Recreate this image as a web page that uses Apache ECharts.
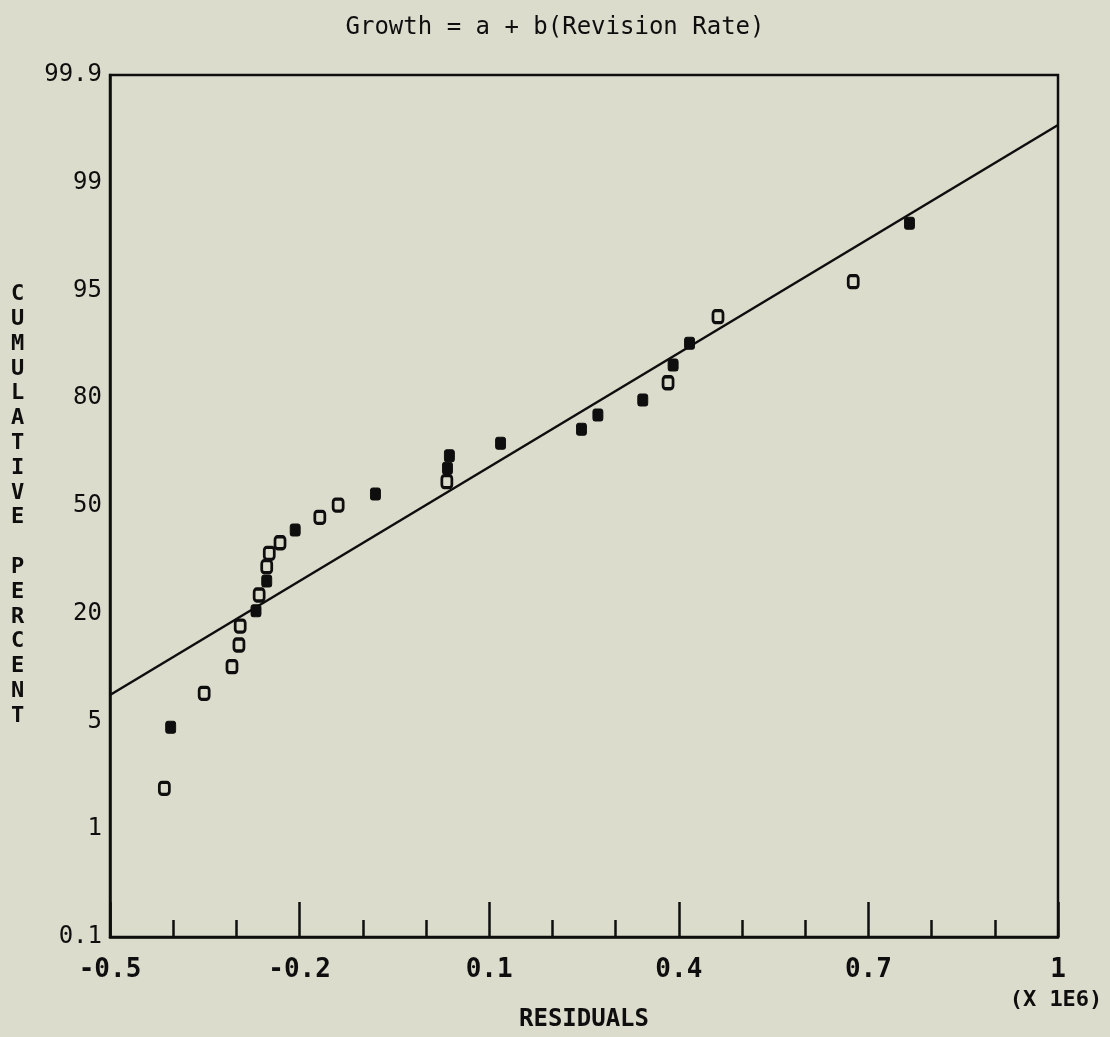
<!DOCTYPE html>
<html>
<head>
<meta charset="utf-8">
<script src="https://cdn.jsdelivr.net/npm/echarts@6/dist/echarts.min.js"></script>
<style>
html,body{margin:0;padding:0;background:#dcdccd;}
#chart{width:1110px;height:1037px;}
</style>
</head>
<body>
<div id="chart"></div>
<script>
// Probability-scale tick labels (equally spaced positions 0..8 on the y axis)
var probTickLabels = ['0.1', '1', '5', '20', '50', '80', '95', '99', '99.9'];
var xTickLabels = ['-0.5', '-0.2', '0.1', '0.4', '0.7', '1'];

// Residuals (x 1E6) and their position on the probability axis (tick-index units)
var hollowResiduals = [-0.414, -0.351, -0.307, -0.296, -0.294, -0.264, -0.252, -0.248, -0.231, -0.168, -0.139, 0.033, 0.383, 0.462, 0.676];
var hollowProbPos   = [1.38, 2.262, 2.509, 2.71, 2.886, 3.174, 3.437, 3.561, 3.659, 3.895, 4.009, 4.226, 5.144, 5.757, 6.082];
var filledResiduals = [-0.404, -0.269, -0.252, -0.207, -0.080, 0.034, 0.037, 0.118, 0.246, 0.272, 0.343, 0.391, 0.417, 0.765];
var filledProbPos   = [1.946, 3.028, 3.304, 3.777, 4.111, 4.35, 4.467, 4.582, 4.712, 4.845, 4.984, 5.309, 5.51, 6.624];

// Fitted line end points
var fitResiduals = [-0.5, 1.0];
var fitProbPos   = [2.246, 7.536];

function pairs(xs, ys) { return xs.map(function (x, i) { return [x, ys[i]]; }); }

var ink = '#0e0e0e';
var bg = '#dcdccd';
var mono = '"DejaVu Sans Mono", "Liberation Mono", monospace';

var chart = echarts.init(document.getElementById('chart'));
chart.setOption({
  backgroundColor: bg,
  animation: false,
  title: {
    text: 'Growth = a + b(Revision Rate)',
    left: 'center',
    top: 11,
    textStyle: { fontFamily: mono, fontSize: 24, fontWeight: 'normal', color: ink }
  },
  grid: {
    left: 110, right: 52, top: 75, bottom: 100,
    show: true, borderColor: ink, borderWidth: 2.5, backgroundColor: 'transparent'
  },
  xAxis: {
    type: 'value',
    min: -0.5, max: 1.0, interval: 0.3,
    axisLine: { show: true, onZero: false, lineStyle: { color: ink, width: 2.5 } },
    axisTick: { show: true, inside: true, length: 35, lineStyle: { color: ink, width: 2.5 } },
    minorTick: { show: true, splitNumber: 3, length: 17, lineStyle: { color: ink, width: 2.5 } },
    splitLine: { show: false },
    axisLabel: {
      margin: 20,
      fontFamily: mono, fontSize: 26, fontWeight: 'bold', color: ink,
      formatter: function (v) {
        var idx = Math.round((v + 0.5) / 0.3);
        return xTickLabels[idx] !== undefined ? xTickLabels[idx] : '';
      }
    }
  },
  yAxis: {
    type: 'value',
    min: 0, max: 8, interval: 1,
    axisLine: { show: true, onZero: false, lineStyle: { color: ink, width: 2.5 } },
    axisTick: { show: false },
    splitLine: { show: false },
    axisLabel: {
      margin: 8,
      fontFamily: mono, fontSize: 24, color: ink,
      formatter: function (v) { return probTickLabels[Math.round(v)] || ''; }
    }
  },
  graphic: [
    {
      type: 'text', left: 11, top: 282,
      style: {
        text: 'CUMULATIVE PERCENT'.split('').join('\n'),
        fontFamily: mono, fontSize: 22, fontWeight: 'bold', fill: ink,
        lineHeight: 24.8, textAlign: 'center'
      }
    },
    {
      type: 'text', x: 584, y: 1020,
      style: {
        text: 'RESIDUALS', fontFamily: mono, fontSize: 24, fontWeight: 'bold', fill: ink,
        textAlign: 'center', textVerticalAlign: 'middle'
      }
    },
    {
      type: 'text', x: 1056, y: 1000,
      style: {
        text: '(X 1E6)', fontFamily: mono, fontSize: 22, fontWeight: 'bold', fill: ink,
        textAlign: 'center', textVerticalAlign: 'middle'
      }
    }
  ],
  series: [
    {
      type: 'line',
      data: pairs(fitResiduals, fitProbPos),
      showSymbol: false, symbol: 'none',
      lineStyle: { color: ink, width: 2.5 },
      silent: true, z: 2
    },
    {
      type: 'scatter',
      data: pairs(hollowResiduals, hollowProbPos),
      symbol: 'roundRect', symbolSize: [10, 12],
      itemStyle: { color: bg, borderColor: ink, borderWidth: 3, opacity: 1 },
      z: 3
    },
    {
      type: 'scatter',
      data: pairs(filledResiduals, filledProbPos),
      symbol: 'roundRect', symbolSize: [10, 12],
      itemStyle: { color: ink, borderColor: ink, borderWidth: 1, opacity: 1 },
      z: 3
    }
  ]
});
</script>
</body>
</html>
